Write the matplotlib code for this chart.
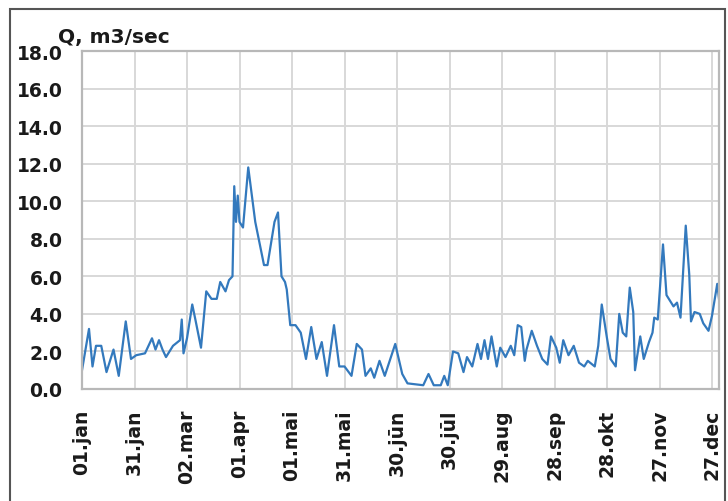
import matplotlib.pyplot as plt
from matplotlib.patches import Rectangle

# daily discharge, read at turning points (day of year, Q m3/sec)
days = [0, 4, 6, 8, 11, 14, 18, 21, 25, 28, 31, 36, 40, 42, 44, 46, 48, 52,
        56, 57, 58, 60, 63, 65, 68, 71, 74, 77, 79, 82, 84, 86, 87, 88, 89,
        90, 92, 95, 99, 104, 106, 110, 112, 114, 116, 117, 119, 122, 125,
        128, 131, 134, 137, 140, 144, 147, 150, 154, 157, 160, 162, 165, 167,
        170, 173, 179, 183, 186, 195, 198, 201, 205, 207, 209, 212, 215, 218,
        220, 223, 226, 228, 230, 232, 234, 237, 239, 242, 245, 247, 249, 251,
        253, 254, 257, 260, 263, 266, 268, 271, 273, 275, 278, 281, 284, 287,
        289, 293, 295, 297, 300, 302, 305, 307, 309, 311, 313, 315, 316, 319,
        321, 324, 326, 327, 329, 332, 334, 336, 338, 340, 342, 345, 347, 348,
        350, 353, 355, 358, 360, 363, 364]
flow = [1.0, 3.2, 1.2, 2.3, 2.3, 0.9, 2.1, 0.7, 3.6, 1.6, 1.8, 1.9, 2.7, 2.1,
        2.6, 2.1, 1.7, 2.3, 2.6, 3.7, 1.9, 2.7, 4.5, 3.6, 2.2, 5.2, 4.8, 4.8,
        5.7, 5.2, 5.8, 6.0, 10.8, 8.9, 10.3, 8.9, 8.6, 11.8, 8.9, 6.6, 6.6,
        8.9, 9.4, 6.0, 5.7, 5.3, 3.4, 3.4, 3.0, 1.6, 3.3, 1.6, 2.5, 0.7, 3.4,
        1.2, 1.2, 0.7, 2.4, 2.1, 0.7, 1.1, 0.6, 1.5, 0.7, 2.4, 0.8, 0.3, 0.2,
        0.8, 0.2, 0.2, 0.7, 0.2, 2.0, 1.9, 0.9, 1.7, 1.2, 2.4, 1.6, 2.6, 1.6,
        2.8, 1.2, 2.2, 1.7, 2.3, 1.8, 3.4, 3.3, 1.5, 2.1, 3.1, 2.3, 1.6, 1.3,
        2.8, 2.2, 1.4, 2.6, 1.8, 2.3, 1.4, 1.2, 1.5, 1.2, 2.3, 4.5, 2.7, 1.6,
        1.2, 4.0, 3.0, 2.8, 5.4, 4.1, 1.0, 2.8, 1.6, 2.5, 3.0, 3.8, 3.7, 7.7,
        5.0, 4.7, 4.4, 4.6, 3.8, 8.7, 6.1, 3.6, 4.1, 4.0, 3.5, 3.1, 3.9, 5.6,
        4.8]

tick_days = [0, 30, 60, 90, 120, 150, 180, 210, 240, 270, 300, 330, 360]
tick_labels = ["01.jan", "31.jan", "02.mar", "01.apr", "01.mai", "31.mai",
               "30.jūn", "30.jūl", "29.aug", "28.sep", "28.okt", "27.nov",
               "27.dec"]
y_ticks = [0, 2, 4, 6, 8, 10, 12, 14, 16, 18]

W, H = 728, 502
fig = plt.figure(figsize=(W / 100, H / 100), dpi=100)
ax = fig.add_axes([82 / W, 1 - 390 / H, 637 / W, 338 / H])

ax.plot(days, flow, color="#3379bd", lw=1.6, solid_joinstyle="round")

ax.set_xlim(0, 364)
ax.set_ylim(0, 18)
ax.set_xticks(tick_days)
ax.set_xticklabels(tick_labels, rotation=90, fontsize=13.5, fontweight="bold",
                   color="#1a1a1a")
ax.set_yticks(y_ticks)
ax.set_yticklabels([f"{v:.1f}" for v in y_ticks], fontsize=13.5,
                   fontweight="bold", color="#1a1a1a")
ax.tick_params(axis="both", length=0)
ax.tick_params(axis="x", pad=14)
ax.tick_params(axis="y", pad=14)

ax.grid(True, color="#d8d8d8", lw=1.4)
ax.set_axisbelow(True)
for side in ax.spines.values():
    side.set_color("#b8b8b8")
    side.set_linewidth(1.6)

fig.text(58 / W, 1 - 43 / H, "Q, m3/sec", fontsize=14.5, fontweight="bold",
         color="#1a1a1a", ha="left", va="baseline")

# thin frame around the whole chart
fig.add_artist(Rectangle((10 / W, -0.05), 715 / W, 1 - 10 / H + 0.05,
                         transform=fig.transFigure, fill=False,
                         edgecolor="#555555", lw=1.5))

fig.savefig("out.png", dpi=100)
